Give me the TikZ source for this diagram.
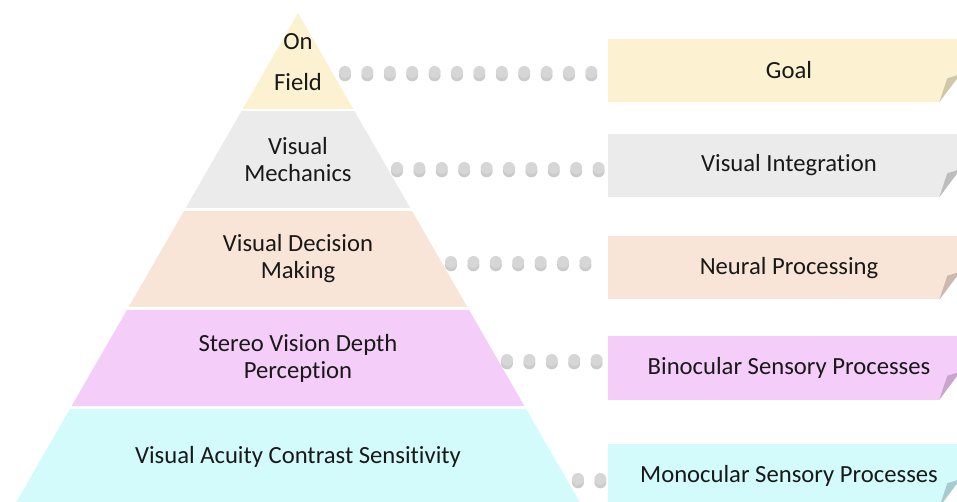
\documentclass[tikz,border=0pt]{standalone}
\usepackage{fontspec}
\setmainfont{Carlito}[Ligatures=NoCommon]
\usetikzlibrary{calc,shadows,decorations.markings}

\definecolor{tierA}{HTML}{FCF1D0}
\definecolor{tierB}{HTML}{EBEBEB}
\definecolor{tierC}{HTML}{F8E5D7}
\definecolor{tierD}{HTML}{F4CDF9}
\definecolor{tierE}{HTML}{D3FBFC}
\definecolor{foldA}{HTML}{CFC7A8}
\definecolor{foldB}{HTML}{BDBDBD}
\definecolor{foldC}{HTML}{CAB9AC}
\definecolor{foldD}{HTML}{C8A5CB}
\definecolor{foldE}{HTML}{A8CCCD}

\begin{document}
\begin{tikzpicture}[x=0.75pt,y=-0.75pt,
every node/.style={font=\fontsize{18.5}{20.25}\selectfont, text=black!90},
level/.style={align=center},
note/.style={rectangle, minimum width=271.5pt, minimum height=47.25pt, inner sep=0pt},
dot/.style={circle, fill=black!16, minimum size=9pt, inner sep=0pt,
  drop shadow={shadow xshift=0pt, shadow yshift=-2.5pt, opacity=0.45, fill=black!45}},
dotrow/.style={decoration={markings,
  mark=between positions 0 and 1 step 16.8pt with {\node[dot]{};}}, decorate}
]
\useasboundingbox (0,0) rectangle (957,502);
\clip (0,0) rectangle (957,502);

% pyramid tiers, apex at (298,13)
\foreach \t/\b/\c in {13/109/tierA, 111/208/tierB, 211/307/tierC, 310/406/tierD, 409/512/tierE}
  \fill[\c] ({298-0.576*(\t-13)},\t) -- ({298+0.576*(\t-13)},\t)
    -- ({298+0.576*(\b-13)},\b) -- ({298-0.576*(\b-13)},\b) -- cycle;

\node[level] (onfield) at (298,62) {On\\[10.5pt]Field};
\node[level] (mech) at (298,160) {Visual\\Mechanics};
\node[level] (decision) at (298,259) {Visual Decision\\Making};
\node[level] (stereo) at (298,358) {Stereo Vision Depth\\Perception};
\node[level] (acuity) at (298,457) {Visual Acuity Contrast Sensitivity};

% notes on the right (they run past the edge)
\node[note, fill=tierA] (goal) at (789,70.5) {Goal};
\node[note, fill=tierB] (integ) at (789,165.5) {Visual Integration};
\node[note, fill=tierC] (neural) at (789,268) {Neural Processing};
\node[note, fill=tierD] (binoc) at (789,368) {Binocular Sensory Processes};
\node[note, fill=tierE] (monoc) at (789,475.5) {Monocular Sensory Processes};

\foreach \n/\c in {goal/foldA, integ/foldB, neural/foldC, binoc/foldD, monoc/foldE} {
  \fill[white] ($(\n.south east)+(-31,0)$) -- (\n.south east) -- ($(\n.south east)+(0,-42)$) -- cycle;
  \fill[\c] ($(\n.south east)+(-31,0)$) -- ($(\n.south east)+(-23,-24)$) -- ($(\n.south east)+(-10,-28)$) -- cycle;
}

% dotted leaders
\coordinate (d1) at (345,72);
\coordinate (d2) at (397,168);
\coordinate (d3) at (451,262);
\coordinate (d4) at (507,360);
\coordinate (d5) at (578,479);
\path[dotrow] (d1) -- (d1 -| goal.west);
\path[dotrow] (d2) -- (d2 -| integ.west);
\path[dotrow] (d3) -- (d3 -| neural.west);
\path[dotrow] (d4) -- (d4 -| binoc.west);
\path[dotrow] (d5) -- (d5 -| monoc.west);
\end{tikzpicture}
\end{document}
